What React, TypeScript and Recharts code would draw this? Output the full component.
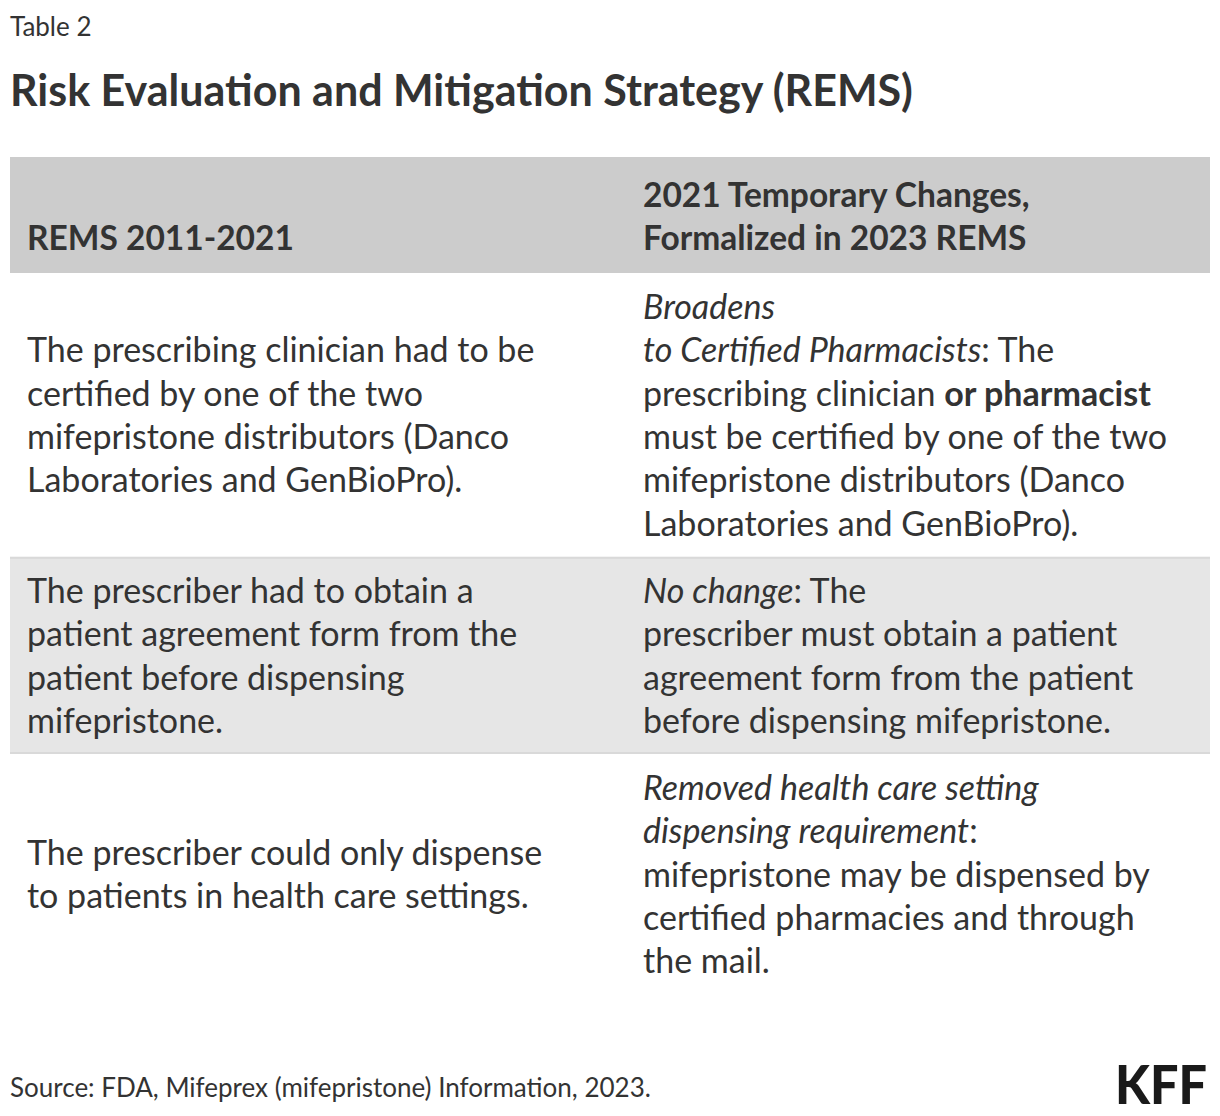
import { ComposedChart, Customized } from "recharts";

type Seg = { t: string; s?: "i" | "b" };
type Line = Seg[];

const columnHeads: string[][] = [["REMS 2011-2021"], ["2021 Temporary Changes,", "Formalized in 2023 REMS"]];

const before: Line[][] = [
  [
    [{ t: "The prescribing clinician had to be" }],
    [{ t: "certified by one of the two" }],
    [{ t: "mifepristone distributors (Danco" }],
    [{ t: "Laboratories and GenBioPro)." }],
  ],
  [
    [{ t: "The prescriber had to obtain a" }],
    [{ t: "patient agreement form from the" }],
    [{ t: "patient before dispensing" }],
    [{ t: "mifepristone." }],
  ],
  [[{ t: "The prescriber could only dispense" }], [{ t: "to patients in health care settings." }]],
];

const after: Line[][] = [
  [
    [{ t: "Broadens", s: "i" }],
    [{ t: "to Certified Pharmacists", s: "i" }, { t: ": The" }],
    [{ t: "prescribing clinician " }, { t: "or pharmacist", s: "b" }],
    [{ t: "must be certified by one of the two" }],
    [{ t: "mifepristone distributors (Danco" }],
    [{ t: "Laboratories and GenBioPro)." }],
  ],
  [
    [{ t: "No change", s: "i" }, { t: ": The" }],
    [{ t: "prescriber must obtain a patient" }],
    [{ t: "agreement form from the patient" }],
    [{ t: "before dispensing mifepristone." }],
  ],
  [
    [{ t: "Removed health care setting", s: "i" }],
    [{ t: "dispensing requirement", s: "i" }, { t: ":" }],
    [{ t: "mifepristone may be dispensed by" }],
    [{ t: "certified pharmacies and through" }],
    [{ t: "the mail." }],
  ],
];

const rowShaded = [false, true, false];

const FONT = "Lato, 'Noto Sans', sans-serif";
const INK = "#333333";
const LH = 43.3;
const COLX = [27, 643];

function CellText({ lines, x, top }: { lines: Line[]; x: number; top: number }) {
  return (
    <text x={x} fontFamily={FONT} fontSize={34} fill={INK}>
      {lines.map((line, i) => (
        <tspan key={i} x={x} y={top + i * LH}>
          {line.map((seg, j) => (
            <tspan key={j} fontStyle={seg.s === "i" ? "italic" : "normal"} fontWeight={seg.s === "b" ? 700 : 400}>
              {seg.t}
            </tspan>
          ))}
        </tspan>
      ))}
    </text>
  );
}

function Table() {
  const padTop = 15;
  const padBottom = 9;
  let y = 273;
  const rows = before.map((b, i) => {
    const a = after[i];
    const n = Math.max(b.length, a.length);
    const h = n * LH + padTop + padBottom;
    const top = y;
    y += h;
    const cells = [b, a].map((lines, c) => {
      const first = top + padTop + ((n - lines.length) * LH) / 2 + LH * 0.72;
      return <CellText key={c} lines={lines} x={COLX[c]} top={first} />;
    });
    return (
      <g key={i}>
        {rowShaded[i] && (
          <>
            <rect x={10} y={top} width={1200} height={h} fill="#e6e6e6" />
            <rect x={10} y={top} width={1200} height={2} fill="#d9d9d9" />
            <rect x={10} y={top + h - 2} width={1200} height={2} fill="#d9d9d9" />
          </>
        )}
        {cells}
      </g>
    );
  });
  return (
    <g>
      <text x={10} y={36} fontFamily={FONT} fontSize={26} fill={INK}>
        Table 2
      </text>
      <text x={10} y={106} fontFamily={FONT} fontSize={43} fontWeight={700} fill={INK}>
        Risk Evaluation and Mitigation Strategy (REMS)
      </text>
      <rect x={10} y={157} width={1200} height={116} fill="#cccccc" />
      {columnHeads.map((lines, c) => (
        <text key={c} fontFamily={FONT} fontSize={33.5} fontWeight={700} fill={INK}>
          {lines.map((l, i) => (
            <tspan key={i} x={COLX[c]} y={250 - (lines.length - 1 - i) * LH}>
              {l}
            </tspan>
          ))}
        </text>
      ))}
      {rows}
      <text x={10} y={1097} fontFamily={FONT} fontSize={26} fill={INK}>
        Source: FDA, Mifeprex (mifepristone) Information, 2023.
      </text>
      <text x={1207} y={1104} textAnchor="end" fontFamily={FONT} fontSize={54} fontWeight={900} fill="#1a1a1a" textLength={92} lengthAdjust="spacingAndGlyphs">
        KFF
      </text>
    </g>
  );
}

export default function App() {
  return (
    <div style={{ margin: -8, background: "#fff", width: 1220, height: 1116 }}>
      <ComposedChart width={1220} height={1116} data={[{ v: 0 }]} margin={{ top: 0, right: 0, bottom: 0, left: 0 }}>
        <Customized component={Table} />
      </ComposedChart>
    </div>
  );
}
